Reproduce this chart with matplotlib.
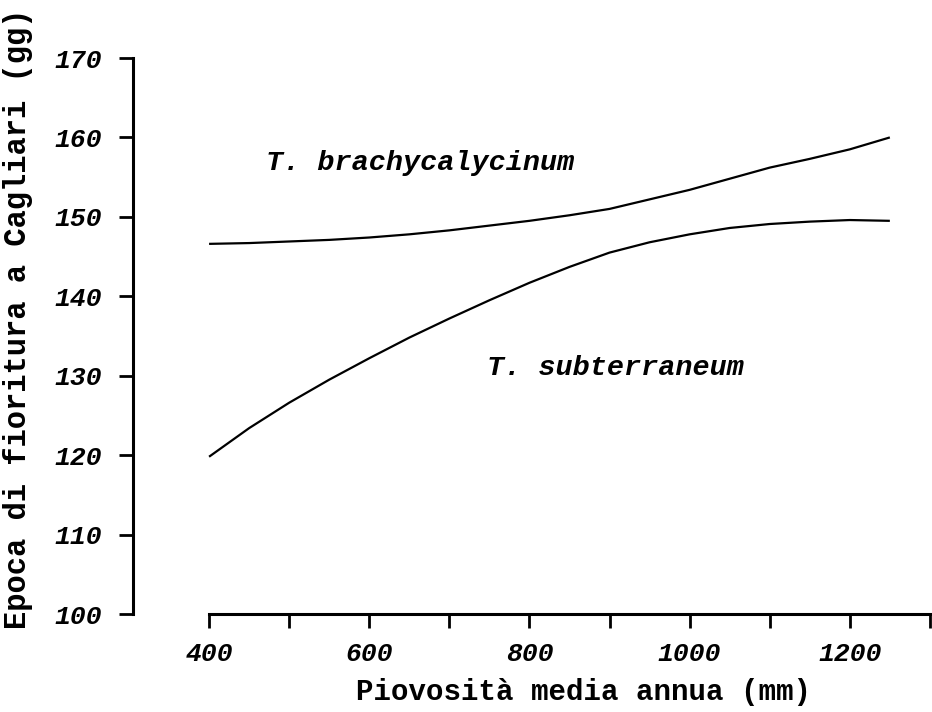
import matplotlib
matplotlib.use("Agg")
import matplotlib.pyplot as plt

# Data
rain_mm = [400, 450, 500, 550, 600, 650, 700, 750, 800, 850, 900, 950,
           1000, 1050, 1100, 1150, 1200, 1250]
brachycalycinum = [146.6, 146.7, 146.9, 147.1, 147.4, 147.8, 148.3, 148.9, 149.5,
                   150.2, 151.0, 152.2, 153.4, 154.8, 156.2, 157.3, 158.5, 160.0]
subterraneum = [119.8, 123.4, 126.6, 129.5, 132.2, 134.8, 137.2, 139.5, 141.7,
                143.7, 145.5, 146.8, 147.8, 148.6, 149.1, 149.4, 149.6, 149.5]
x_ticks = [400, 500, 600, 700, 800, 900, 1000, 1100, 1200, 1300]
x_ticklabels = ["400", "", "600", "", "800", "", "1000", "", "1200", ""]
y_ticks = [100, 110, 120, 130, 140, 150, 160, 170]

mono = "Liberation Mono"

fig = plt.figure(figsize=(9.32, 7.12), dpi=100)
W, H = 932, 712
left_px, right_px, top_px, bot_px = 133, 931.5, 58, 614
ax = fig.add_axes([left_px / W, (H - bot_px) / H, (right_px - left_px) / W, (bot_px - top_px) / H])

ax.plot(rain_mm, brachycalycinum, color="black", lw=1.6, solid_capstyle="butt")
ax.plot(rain_mm, subterraneum, color="black", lw=1.6, solid_capstyle="butt")

ax.set_xlim(305, 1302)
ax.set_ylim(100, 170)

for s in ("top", "right"):
    ax.spines[s].set_visible(False)
for s in ("left", "bottom"):
    ax.spines[s].set_linewidth(2.2)
ax.spines["bottom"].set_bounds(400, 1300)

ax.set_xticks(x_ticks)
ax.set_xticklabels(x_ticklabels)
ax.set_yticks(y_ticks)
ax.tick_params(axis="both", direction="out", length=10, width=2.0)
ax.tick_params(axis="x", pad=10)
ax.tick_params(axis="y", pad=12)
for lab in ax.get_xticklabels() + ax.get_yticklabels():
    lab.set_fontfamily(mono)
    lab.set_fontstyle("italic")
    lab.set_fontweight("bold")
    lab.set_fontsize(19)

ax.text(471, 156.8, "T. brachycalycinum", fontfamily=mono, fontstyle="italic",
        fontweight="bold", fontsize=20.5, va="center", ha="left")
ax.text(747, 131.0, "T. subterraneum", fontfamily=mono, fontstyle="italic",
        fontweight="bold", fontsize=20.5, va="center", ha="left")

fig.text(583 / W, 1 - 692 / H, "Piovosità media annua (mm)", fontfamily=mono,
         fontweight="bold", fontsize=21, ha="center", va="center")
fig.text(18 / W, 1 - 319 / H, "Epoca di fioritura a Cagliari (gg)", fontfamily=mono,
         fontweight="bold", fontsize=22, ha="center", va="center", rotation=90)

fig.savefig("out.png", dpi=100)
